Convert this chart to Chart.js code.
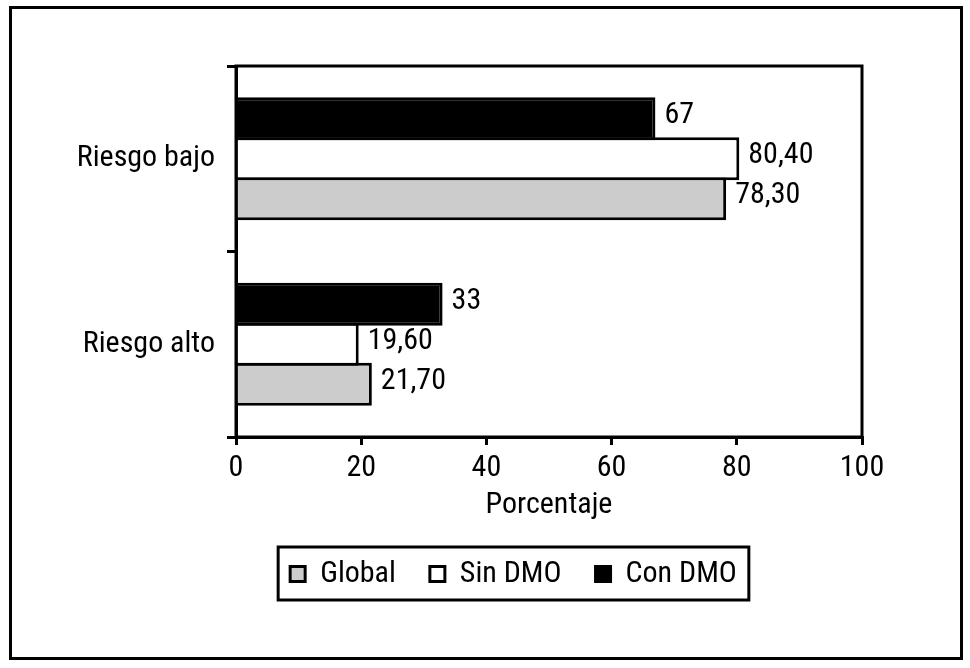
<!DOCTYPE html>
<html>
<head>
<meta charset="utf-8">
<script src="https://cdn.jsdelivr.net/npm/chart.js@4/dist/chart.umd.min.js"></script>
<style>
  html, body { margin: 0; padding: 0; background: #fff; }
  #wrap { width: 970px; height: 668px; }
</style>
</head>
<body>
<div id="wrap"><canvas id="c" width="970" height="668"></canvas></div>
<script>
// ---- data ----
const categories = ['Riesgo bajo', 'Riesgo alto'];
const conDMO = [67, 33];
const sinDMO = [80.4, 19.6];
const global = [78.3, 21.7];
const seriesNames = ['Con DMO', 'Sin DMO', 'Global'];
const seriesDecimals = [0, 2, 2];
const xTicks = [0, 20, 40, 60, 80, 100];
const xTitle = 'Porcentaje';

const FONT = "'Roboto Condensed', 'DejaVu Sans Condensed', sans-serif";
const FS = 30;
const FW = 400;
Chart.defaults.color = '#000';
Chart.defaults.font.family = FONT;
Chart.defaults.font.size = FS;
Chart.defaults.font.weight = FW;

function fmt(v, d) {
  return v.toFixed(d).replace('.', ',');
}

const frame = {
  id: 'frame',
  afterUpdate(chart) {
    // shift the legend row so it sits where the original puts it
    const lg = chart.legend;
    if (!lg || !lg.legendHitBoxes) return;
    const shift = 513.5 - (lg.left + lg.right) / 2;
    lg.left += shift;
    lg.right += shift;
    lg.legendHitBoxes.forEach(h => { h.left += shift; });
  },
  beforeDraw(chart) {
    const ctx = chart.ctx;
    ctx.save();
    ctx.fillStyle = '#fff';
    ctx.fillRect(0, 0, chart.width, chart.height);
    ctx.lineWidth = 3;
    ctx.strokeStyle = '#000';
    ctx.strokeRect(10.5, 7.5, 951, 651);
    ctx.restore();
  },
  afterDraw(chart) {
    const ctx = chart.ctx;
    const a = chart.chartArea;
    ctx.save();
    ctx.lineWidth = 3;
    ctx.strokeStyle = '#000';
    ctx.strokeRect(a.left, a.top, a.right - a.left, a.bottom - a.top);
    const hb = chart.legend.legendHitBoxes;
    if (hb && hb.length) {
      let l = Infinity, r = -Infinity, t = Infinity, b = -Infinity;
      hb.forEach(h => {
        l = Math.min(l, h.left); r = Math.max(r, h.left + h.width);
        t = Math.min(t, h.top); b = Math.max(b, h.top + h.height);
      });
      ctx.strokeRect(l - 12, t - 12, (r + 12) - (l - 12), (b + 11) - (t - 12));
    }
    ctx.restore();
  }
};

const valueLabels = {
  id: 'valueLabels',
  afterDatasetsDraw(chart) {
    const ctx = chart.ctx;
    ctx.save();
    ctx.font = FW + ' ' + FS + 'px ' + FONT;
    ctx.fillStyle = '#000';
    ctx.textAlign = 'left';
    ctx.textBaseline = 'middle';
    chart.data.datasets.forEach((ds, i) => {
      const meta = chart.getDatasetMeta(i);
      meta.data.forEach((el, j) => {
        ctx.fillText(fmt(ds.data[j], seriesDecimals[i]), el.x + 9, el.y - 3);
      });
    });
    ctx.restore();
  }
};

const common = { borderColor: '#000', borderWidth: 3, barPercentage: 1.075, categoryPercentage: 0.647 };

new Chart(document.getElementById('c'), {
  type: 'bar',
  data: {
    labels: categories,
    datasets: [
      Object.assign({ label: seriesNames[0], data: conDMO, backgroundColor: '#000' }, common),
      Object.assign({ label: seriesNames[1], data: sinDMO, backgroundColor: '#fff' }, common),
      Object.assign({ label: seriesNames[2], data: global, backgroundColor: '#cccccc' }, common)
    ]
  },
  options: {
    indexAxis: 'y',
    responsive: false,
    animation: false,
    devicePixelRatio: 1,
    layout: { padding: { top: 66, left: 20, right: 108, bottom: 69 } },
    plugins: {
      tooltip: { enabled: false },
      legend: {
        position: 'bottom',
        reverse: true,
        labels: {
          boxWidth: 15,
          boxHeight: 15,
          padding: 34,
          color: '#000',
          font: { size: FS, family: FONT, weight: FW }
        }
      }
    },
    scales: {
      x: {
        min: 0, max: 100,
        afterBuildTicks(scale) { scale.ticks = xTicks.map(v => ({ value: v })); },
        afterFit(scale) { scale.height = 88; },
        ticks: { padding: 5, color: '#000', font: { size: FS, weight: FW }, maxRotation: 0 },
        grid: { drawOnChartArea: false, tickLength: 8, color: '#000', lineWidth: 3 },
        border: { display: true, color: '#000', width: 3 },
        title: { display: true, text: xTitle, color: '#000', font: { size: FS, weight: FW }, padding: { top: 0, bottom: 2 } }
      },
      y: {
        afterFit(scale) { scale.width = 216; },
        ticks: { padding: 12, color: '#000', font: { size: FS, weight: FW } },
        grid: { offset: true, drawOnChartArea: false, tickLength: 9, color: '#000', lineWidth: 3 },
        border: { display: true, color: '#000', width: 3 }
      }
    }
  },
  plugins: [frame, valueLabels]
});
</script>
</body>
</html>
